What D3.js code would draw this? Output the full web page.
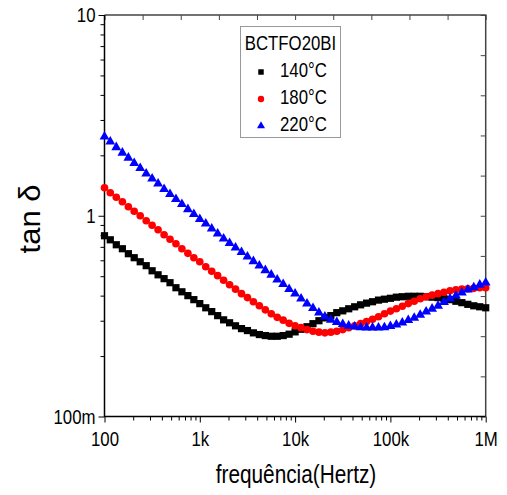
<!DOCTYPE html>
<html lang="en">
<head>
<meta charset="utf-8" />
<title>tan delta vs frequency</title>
<script src="https://cdn.jsdelivr.net/npm/d3@7"></script>
<style>
  body { margin: 0; background: #fff; }
  text { font-family: "Liberation Sans", Arial, sans-serif; fill: #000; }
</style>
</head>
<body>
<div id="chart"></div>
<script>
// frequencies (Hz), 16 points per decade
var freqHz = [100, 115, 133, 154, 178, 205, 237, 274, 316, 365, 422, 487, 562, 649, 750, 866,
  1000, 1155, 1334, 1540, 1778, 2054, 2371, 2738, 3162, 3652, 4217, 4870, 5623, 6494, 7499, 8660,
  10000, 11548, 13335, 15399, 17783, 20535, 23714, 27384, 31623, 36517, 42170, 48697, 56234, 64938, 74989, 86596,
  100000, 115478, 133352, 153993, 177828, 205353, 237137, 273842, 316228, 365174, 421697, 486968, 562341, 649382, 749894, 865964,
  1000000];

var tan140 = [0.795, 0.759, 0.717, 0.685, 0.647, 0.618, 0.590, 0.564, 0.532, 0.508, 0.486, 0.464, 0.438, 0.418, 0.400, 0.382,
  0.365, 0.348, 0.333, 0.318, 0.303, 0.293, 0.283, 0.274, 0.268, 0.261, 0.256, 0.253, 0.251, 0.251, 0.253, 0.257,
  0.264, 0.272, 0.280, 0.290, 0.300, 0.310, 0.318, 0.329, 0.336, 0.344, 0.352, 0.360, 0.367, 0.373, 0.380, 0.384,
  0.388, 0.393, 0.395, 0.397, 0.397, 0.397, 0.395, 0.393, 0.391, 0.386, 0.382, 0.375, 0.369, 0.362, 0.356, 0.352,
  0.348];

var tan180 = [1.378, 1.302, 1.236, 1.174, 1.109, 1.053, 1.000, 0.944, 0.897, 0.852, 0.804, 0.764, 0.725, 0.685, 0.650, 0.618,
  0.590, 0.557, 0.529, 0.503, 0.477, 0.453, 0.431, 0.409, 0.391, 0.373, 0.356, 0.340, 0.325, 0.312, 0.302, 0.291,
  0.283, 0.277, 0.271, 0.266, 0.263, 0.261, 0.263, 0.266, 0.271, 0.277, 0.283, 0.290, 0.297, 0.305, 0.314, 0.325,
  0.335, 0.344, 0.354, 0.365, 0.375, 0.386, 0.395, 0.402, 0.409, 0.416, 0.423, 0.428, 0.431, 0.433, 0.435, 0.438,
  0.438];

var tan220 = [2.474, 2.336, 2.193, 2.059, 1.944, 1.826, 1.724, 1.619, 1.529, 1.443, 1.355, 1.280, 1.208, 1.141, 1.077, 1.017,
  0.961, 0.912, 0.862, 0.814, 0.768, 0.730, 0.693, 0.658, 0.625, 0.593, 0.564, 0.535, 0.508, 0.480, 0.456, 0.431,
  0.409, 0.386, 0.365, 0.346, 0.329, 0.314, 0.303, 0.295, 0.288, 0.283, 0.280, 0.278, 0.277, 0.277, 0.277, 0.278,
  0.282, 0.287, 0.293, 0.302, 0.310, 0.321, 0.333, 0.344, 0.356, 0.371, 0.386, 0.400, 0.414, 0.428, 0.440, 0.453,
  0.464];

var seriesNames = ["140°C", "180°C", "220°C"];
var legendTitle = "BCTFO20BI";
var xMajorTicks = [100, 1000, 10000, 100000, 1000000];
var yMajorTicks = [0.1, 1, 10];

var width = 507, height = 495;
var plotLeft = 104.5, plotRight = 485.7, plotTop = 15, plotBottom = 416.5;

var x = d3.scaleLog().domain([100, 1e6]).range([plotLeft, plotRight]);
var y = d3.scaleLog().domain([0.1, 10]).range([plotBottom, plotTop]);
var fmt = d3.format("~s");

var svg = d3.select("#chart").append("svg")
  .attr("width", width)
  .attr("height", height);

function isMajor(d) {
  var l = Math.log10(d);
  return Math.abs(l - Math.round(l)) < 1e-6;
}

// the source picture is horizontally squeezed, so squeeze the text too
function squeeze(sel) {
  sel.selectAll("text").each(function() {
    var t = d3.select(this);
    var tx = +t.attr("x") || 0;
    t.attr("x", 0).attr("transform", "translate(" + tx + ",0) scale(0.8,1)");
  });
}

// bottom axis
svg.append("g")
  .attr("transform", "translate(0," + plotBottom + ")")
  .call(d3.axisBottom(x).tickValues(x.ticks().filter(function(d) { return !isMajor(d); }))
    .tickSize(4).tickFormat(""))
  .call(function(g) { g.select(".domain").remove(); });

svg.append("g")
  .attr("transform", "translate(0," + plotBottom + ")")
  .call(d3.axisBottom(x).tickValues(xMajorTicks).tickSize(6).tickPadding(9).tickFormat(fmt))
  .call(function(g) { g.select(".domain").remove(); })
  .call(function(g) { g.selectAll("text").style("font-size", "21px"); })
  .call(squeeze);

// left axis
svg.append("g")
  .attr("transform", "translate(" + plotLeft + ",0)")
  .call(d3.axisLeft(y).tickValues(y.ticks().filter(function(d) { return !isMajor(d); }))
    .tickSize(4).tickFormat(""))
  .call(function(g) { g.select(".domain").remove(); });

svg.append("g")
  .attr("transform", "translate(" + plotLeft + ",0)")
  .call(d3.axisLeft(y).tickValues(yMajorTicks).tickSize(6).tickPadding(3).tickFormat(fmt))
  .call(function(g) { g.select(".domain").remove(); })
  .call(function(g) { g.selectAll("text").style("font-size", "21px"); })
  .call(squeeze);

// top and right: plain linear inner ticks
var xLin = d3.scaleLinear().domain([0, 10]).range([plotLeft, plotRight]);
var yLin = d3.scaleLinear().domain([0, 10]).range([plotBottom, plotTop]);

svg.append("g")
  .attr("transform", "translate(0," + plotTop + ")")
  .call(d3.axisTop(xLin).ticks(10).tickSize(-5).tickFormat(""))
  .call(function(g) { g.select(".domain").remove(); g.selectAll("line").attr("stroke", "#444"); });

svg.append("g")
  .attr("transform", "translate(" + plotRight + ",0)")
  .call(d3.axisRight(yLin).ticks(10).tickSize(-5).tickFormat(""))
  .call(function(g) { g.select(".domain").remove(); g.selectAll("line").attr("stroke", "#444"); });

// frame
svg.append("path")
  .attr("d", "M" + plotLeft + "," + plotTop + "H" + plotRight + "V" + plotBottom)
  .attr("fill", "none").attr("stroke", "#444").attr("stroke-width", 1.5);
svg.append("path")
  .attr("d", "M" + plotLeft + "," + plotTop + "V" + plotBottom + "H" + plotRight)
  .attr("fill", "none").attr("stroke", "#000").attr("stroke-width", 1.5);

// data
var series = [
  { name: seriesNames[0], values: tan140, color: "#000000", symbol: d3.symbolSquare, size: 52, legendSize: 30 },
  { name: seriesNames[1], values: tan180, color: "#ff0000", symbol: d3.symbolCircle, size: 46, legendSize: 32 },
  { name: seriesNames[2], values: tan220, color: "#0000ff", symbol: d3.symbolTriangle, size: 42, legendSize: 28 }
];

series.forEach(function(s) {
  svg.append("g")
    .selectAll("path")
    .data(s.values)
    .enter().append("path")
    .attr("transform", function(d, i) { return "translate(" + x(freqHz[i]) + "," + y(d) + ")"; })
    .attr("d", d3.symbol().type(s.symbol).size(s.size))
    .attr("fill", s.color);
});

// legend
var legend = svg.append("g");
legend.append("rect")
  .attr("x", 240.5).attr("y", 26.5)
  .attr("width", 100).attr("height", 111)
  .attr("fill", "#fff").attr("stroke", "#999").attr("stroke-width", 1);
legend.append("text")
  .attr("transform", "translate(290.5,50) scale(0.8,1)")
  .attr("text-anchor", "middle")
  .style("font-size", "21px")
  .text(legendTitle);

series.forEach(function(s, i) {
  var cy = 72 + i * 27;
  legend.append("path")
    .attr("transform", "translate(261," + cy + ")")
    .attr("d", d3.symbol().type(s.symbol).size(s.legendSize))
    .attr("fill", s.color);
  legend.append("text")
    .attr("transform", "translate(280," + (cy + 5) + ") scale(0.8,1)")
    .style("font-size", "21px")
    .text(s.name);
});

// axis titles
svg.append("text")
  .attr("transform", "translate(296,483) scale(0.8,1)")
  .attr("text-anchor", "middle")
  .style("font-size", "26px")
  .text("frequência(Hertz)");

svg.append("text")
  .attr("transform", "translate(40,219) rotate(-90) scale(1,0.95)")
  .attr("text-anchor", "middle")
  .style("font-size", "31px")
  .text("tan δ");
</script>
</body>
</html>
